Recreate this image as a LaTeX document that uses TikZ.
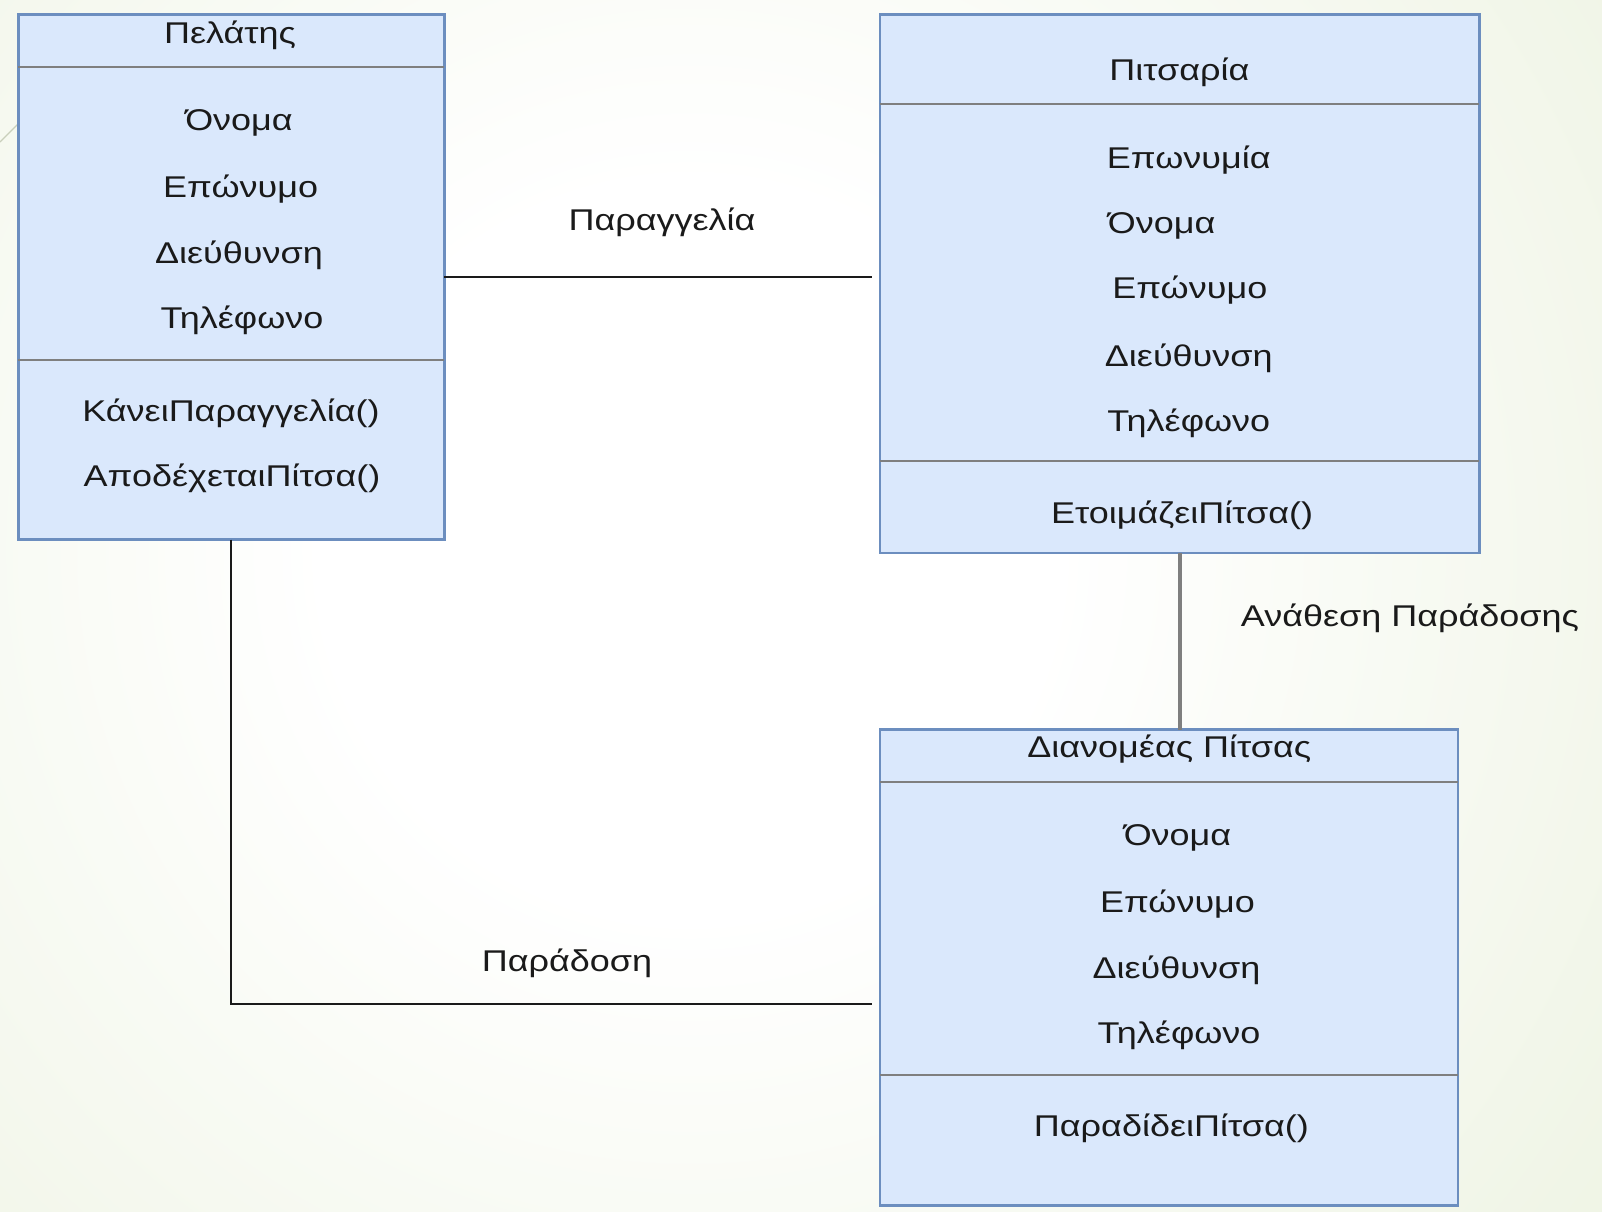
\documentclass[tikz,border=0pt]{standalone}
\usepackage{fontspec}
\setmainfont{Liberation Sans}[FakeStretch=1.2]
\definecolor{bggreen}{HTML}{E3ECD1}
\definecolor{boxfill}{HTML}{DAE8FC}
\definecolor{boxline}{HTML}{6C8EBF}
\definecolor{rulegray}{HTML}{7F7F7F}
\definecolor{inkblack}{HTML}{1A1A1A}
\definecolor{decorline}{HTML}{C9CFBB}
\pgfdeclareradialshading{slideglow}{\pgfpoint{0bp}{0bp}}{%
  color(0bp)=(white); color(7bp)=(white); color(20bp)=(bggreen!50!white);
  color(37bp)=(bggreen); color(100bp)=(bggreen)}
\begin{document}
\begin{tikzpicture}[
  x=0.5pt, y=-0.5pt,
  umlbox/.style={draw=boxline, fill=boxfill, line width=1.2pt, rectangle,
    inner sep=0pt, outer sep=0pt},
  divider/.style={draw=rulegray, line width=1pt},
  lbl/.style={inner sep=0pt, anchor=center, text=inkblack,
    font=\fontsize{15pt}{18pt}\selectfont, text height=10.75pt, text depth=0pt},
  assoc/.style={draw=inkblack, line width=1pt},
  assign/.style={draw=rulegray, line width=2pt},
]
% slide background
\useasboundingbox (0,0) rectangle (1602,1211);
\begin{scope}
  \clip (0,0) rectangle (1602,1211);
  \shade[shading=slideglow] (690,550) circle (1300);
\end{scope}
\draw[decorline, line width=0.6pt] (0,142) -- (30,112);

% class boxes
\node[umlbox, minimum width=213pt, minimum height=262.6pt] (pel) at (231.4,276.9) {};
\node[umlbox, minimum width=299.85pt, minimum height=269.2pt] (pitsa) at (1179.55,283.5) {};
\node[umlbox, minimum width=289.15pt, minimum height=238.05pt] (dian) at (1168.85,967.55) {};

% compartment separators
\coordinate (pelA) at (0,67.4);   \coordinate (pelB) at (0,359.6);
\coordinate (pitA) at (0,104.2);  \coordinate (pitB) at (0,460.8);
\coordinate (dianA) at (0,781.6); \coordinate (dianB) at (0,1074.8);
\draw[divider] (pel.west |- pelA) -- (pel.east |- pelA);
\draw[divider] (pel.west |- pelB) -- (pel.east |- pelB);
\draw[divider] (pitsa.west |- pitA) -- (pitsa.east |- pitA);
\draw[divider] (pitsa.west |- pitB) -- (pitsa.east |- pitB);
\draw[divider] (dian.west |- dianA) -- (dian.east |- dianA);
\draw[divider] (dian.west |- dianB) -- (dian.east |- dianB);

% Πελάτης
\node[lbl] (pel-title) at (230,32.7) {Πελάτης};
\node[lbl] (pel-a1) at (239,119.5) {Όνομα};
\node[lbl] (pel-a2) at (240.6,187) {Επώνυμο};
\node[lbl] (pel-a3) at (239,252.4) {Διεύθυνση};
\node[lbl] (pel-a4) at (242,317.8) {Τηλέφωνο};
\node[lbl] (pel-m1) at (231,410.7) {ΚάνειΠαραγγελία()};
\node[lbl] (pel-m2) at (232,476.1) {ΑποδέχεταιΠίτσα()};

% Πιτσαρία
\node[lbl] (pit-title) at (1179.5,69.5) {Πιτσαρία};
\node[lbl] (pit-a1) at (1188.8,157.3) {Επωνυμία};
\node[lbl] (pit-a2) at (1161.7,222.7) {Όνομα};
\node[lbl] (pit-a3) at (1189.8,288.1) {Επώνυμο};
\node[lbl] (pit-a4) at (1188.8,355.6) {Διεύθυνση};
\node[lbl] (pit-a5) at (1188.8,420.9) {Τηλέφωνο};
\node[lbl] (pit-m1) at (1182.1,512.9) {ΕτοιμάζειΠίτσα()};

% Διανομέας Πίτσας
\node[lbl] (dian-title) at (1169.3,746.9) {Διανομέας Πίτσας};
\node[lbl] (dian-a1) at (1177.5,834.7) {Όνομα};
\node[lbl] (dian-a2) at (1177.5,902.2) {Επώνυμο};
\node[lbl] (dian-a3) at (1176.5,967.6) {Διεύθυνση};
\node[lbl] (dian-a4) at (1179,1033) {Τηλέφωνο};
\node[lbl] (dian-m1) at (1171.4,1125.9) {ΠαραδίδειΠίτσα()};

% associations
\coordinate (orderY) at (0,276.9);
\coordinate (deliverY) at (0,1004.3);
\draw[assoc, shorten >=4pt] (pel.east |- orderY) -- (pitsa.west |- orderY);
\draw[assoc, shorten >=4pt] (pel.south) |- (dian.west |- deliverY);
\draw[assign] (pitsa.south) -- (pitsa.south |- dian.north);

\node[lbl] (order-lbl) at (662,219.7) {Παραγγελία};
\node[lbl] (deliver-lbl) at (567,960.4) {Παράδοση};
\node[lbl] (assign-lbl) at (1410,616.1) {Ανάθεση Παράδοσης};
\end{tikzpicture}
\end{document}
